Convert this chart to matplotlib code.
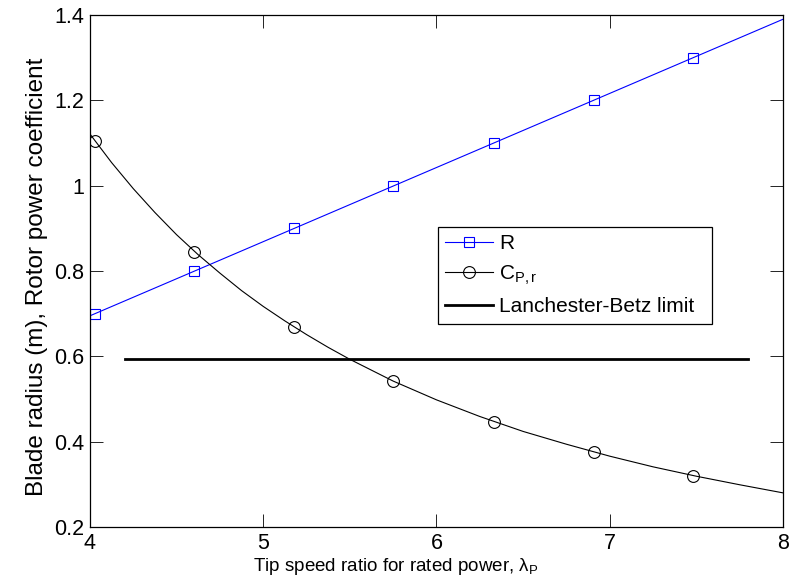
"""Blade radius and rotor power coefficient against tip speed ratio."""

import matplotlib

matplotlib.use("Agg")
import matplotlib.pyplot as plt
from matplotlib.lines import Line2D

plt.rcParams["font.family"] = ["Liberation Sans", "DejaVu Sans"]
plt.rcParams["mathtext.fontset"] = "custom"
plt.rcParams["mathtext.rm"] = "Liberation Sans"
plt.rcParams["mathtext.it"] = "Liberation Sans"
plt.rcParams["mathtext.default"] = "regular"

# Marker positions (tip speed ratio) shared by both series.
lambda_markers = [4.03, 4.60, 5.18, 5.75, 6.33, 6.91, 7.48]
radius_markers = [0.70, 0.80, 0.90, 1.00, 1.10, 1.20, 1.30]
cp_markers = [1.105, 0.845, 0.668, 0.541, 0.447, 0.376, 0.320]

# Line traces.
lambda_radius_line = [4.0, 8.0]
radius_line = [0.695, 1.390]

lambda_cp_line = [4.0, 4.125, 4.25, 4.375, 4.5, 4.625, 4.75, 4.875, 5.0,
                  5.125, 5.25, 5.375, 5.5, 5.75, 6.0, 6.25, 6.5, 6.75,
                  7.0, 7.25, 7.5, 7.75, 8.0]
cp_line = [1.121, 1.054, 0.993, 0.937, 0.885, 0.838, 0.795, 0.754, 0.717,
           0.683, 0.651, 0.621, 0.593, 0.542, 0.498, 0.459, 0.424, 0.394,
           0.366, 0.341, 0.319, 0.299, 0.280]

betz_lambda = [4.2, 7.8]
betz_value = [0.593, 0.593]

x_ticks = [4, 5, 6, 7, 8]
y_ticks = [0.2, 0.4, 0.6, 0.8, 1.0, 1.2, 1.4]
y_tick_labels = ["0.2", "0.4", "0.6", "0.8", "1", "1.2", "1.4"]

TICK_SIZE = 15.5
LEGEND_SIZE = 15
XLABEL_SIZE = 13.5
YLABEL_SIZE = 17.5
BLUE = "#0000ff"

fig = plt.figure(figsize=(7.9, 5.86), dpi=100)
ax = fig.add_axes([0.1139, 0.1007, 0.8772, 0.8737])

ax.plot(lambda_radius_line, radius_line, color=BLUE, lw=0.8)
ax.plot(lambda_markers, radius_markers, ls="none", marker="s", ms=7,
        mfc="none", mec=BLUE, mew=0.8)

ax.plot(lambda_cp_line, cp_line, color="black", lw=0.8)
ax.plot(lambda_markers, cp_markers, ls="none", marker="o", ms=8.5,
        mfc="none", mec="black", mew=0.8)

ax.plot(betz_lambda, betz_value, color="black", lw=2.0)

ax.set_xlim(4, 8)
ax.set_ylim(0.2, 1.4)
ax.set_xticks(x_ticks)
ax.set_yticks(y_ticks)
ax.set_yticklabels(y_tick_labels)
ax.tick_params(direction="in", length=9.4, width=0.6, top=True, right=True,
               labelsize=TICK_SIZE, colors="black", pad=4)
for spine in ax.spines.values():
    spine.set_linewidth(0.9)

ax.set_xlabel("Tip speed ratio for rated power, λ$_{P}$",
              fontsize=XLABEL_SIZE)
ax.set_ylabel("Blade radius (m), Rotor power coefficient",
              fontsize=YLABEL_SIZE)
ax.xaxis.set_label_coords(0.4416, -0.056)
ax.yaxis.set_label_coords(-0.061, 0.488)

handles = [
    Line2D([], [], color=BLUE, lw=0.8, marker="s", ms=7, mfc="none",
           mec=BLUE, mew=0.8),
    Line2D([], [], color="black", lw=0.8, marker="o", ms=8.5, mfc="none",
           mec="black", mew=0.8),
    Line2D([], [], color="black", lw=2.0),
]
labels = ["R", "C$_{P,r}$", "Lanchester-Betz limit"]
legend = ax.legend(handles, labels, loc="upper left",
                   bbox_to_anchor=(0.502, 0.3906, 0.3955, 0.1953),
                   mode="expand", borderaxespad=0, fancybox=False,
                   framealpha=1, edgecolor="black", fontsize=LEGEND_SIZE,
                   handlelength=2.3, handletextpad=0.3, labelspacing=0.5,
                   borderpad=0.35)
legend.get_frame().set_linewidth(0.9)

fig.savefig("out.png", dpi=100)
